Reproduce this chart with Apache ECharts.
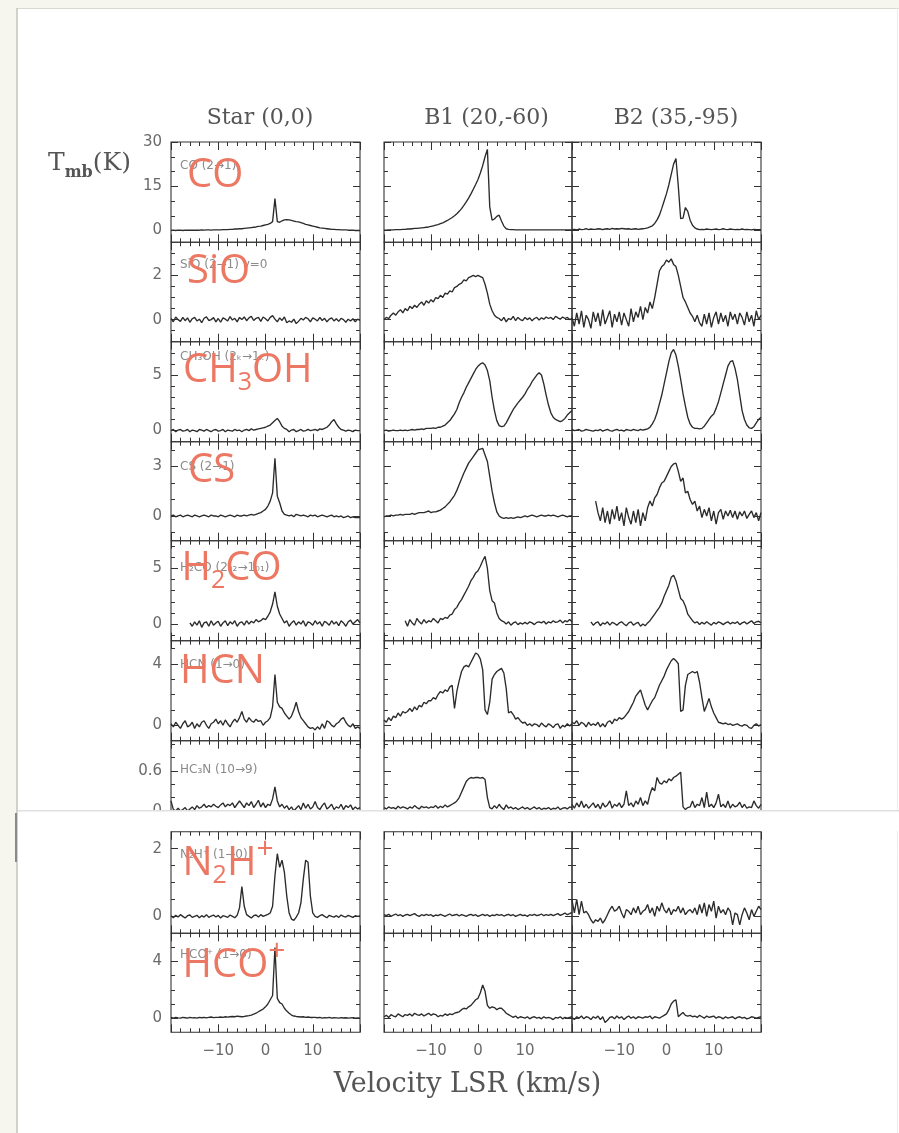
<!DOCTYPE html>
<html><head><meta charset="utf-8">
<script src="https://cdn.jsdelivr.net/npm/echarts@6/dist/echarts.min.js"></script>
<style>html,body{margin:0;padding:0;background:#fff}#c{width:899px;height:1133px}</style>
</head><body><div id="c"></div><script>
// ---------------- DATA ----------------
const velocity = [
 -20,-19.5,-19,-18.5,-18,-17.5,-17,-16.5,-16,-15.5,
 -15,-14.5,-14,-13.5,-13,-12.5,-12,-11.5,-11,-10.5,
 -10,-9.5,-9,-8.5,-8,-7.5,-7,-6.5,-6,-5.5,
 -5,-4.5,-4,-3.5,-3,-2.5,-2,-1.5,-1,-0.5,
 0,0.5,1,1.5,2,2.5,3,3.5,4,4.5,
 5,5.5,6,6.5,7,7.5,8,8.5,9,9.5,
 10,10.5,11,11.5,12,12.5,13,13.5,14,14.5,
 15,15.5,16,16.5,17,17.5,18,18.5,19,19.5,
 20];
const columnTitles = ['Star (0,0)', 'B1 (20,-60)', 'B2 (35,-95)'];
const xTickLabels = [-10, 0, 10];
const yRanges = [[-4,30],[-1,3.5],[-1,8],[-1.5,4.5],[-1.5,7.5],[-1,5.5],[-0.27,1.05],[-0.5,2.5],[-1,6]];
const yMajorTicks = [[0,15,30],[0,2],[0,5],[0,3],[0,5],[0,4],[0,0.6],[0,2],[0,4]];
const yMinorTicks = [[5,10,20,25],[-0.5,0.5,1,1.5,2.5,3],[1,2,3,4,6,7],[-1,1,2,4],[-1,1,2,3,4,6,7],[1,2,3,5],[0.2,0.4,0.8,1.0],[0.5,1,1.5],[1,2,3,5]];

const starCO = [0.0,0.1,0.0,0.1,0.1,0.0,0.1,0.1,0.1,0.1,
 0.1,0.1,0.1,0.2,0.1,0.2,0.2,0.1,0.2,0.2,
 0.2,0.2,0.3,0.3,0.3,0.4,0.4,0.5,0.5,0.6,
 0.6,0.7,0.8,0.9,1.0,1.1,1.2,1.4,1.5,1.7,
 1.9,2.1,2.4,3.0,10.8,3.0,2.8,3.3,3.6,3.7,
 3.6,3.4,3.2,3.0,2.9,2.7,2.4,2.1,1.9,1.7,
 1.5,1.3,1.1,0.9,0.8,0.7,0.6,0.5,0.4,0.4,
 0.3,0.3,0.2,0.2,0.2,0.1,0.1,0.1,0.0,0.0,
 0.0];
const b1CO = [0.1,0.1,0.2,0.2,0.2,0.3,0.3,0.3,0.4,0.4,
 0.5,0.5,0.6,0.7,0.7,0.8,0.9,1.0,1.1,1.2,
 1.4,1.6,1.8,2.0,2.3,2.6,3.0,3.4,3.9,4.4,
 5.0,5.7,6.5,7.4,8.5,9.7,11.0,12.4,14.0,15.6,
 17.3,19.5,22.0,25.0,27.5,8.0,3.5,3.9,4.8,5.2,
 3.2,1.5,0.6,0.4,0.3,0.3,0.2,0.2,0.2,0.2,
 0.2,0.2,0.2,0.2,0.2,0.2,0.2,0.2,0.2,0.2,
 0.2,0.2,0.2,0.2,0.2,0.2,0.2,0.2,0.2,0.2,
 0.2];
const b2CO = [0.3,0.4,0.2,0.5,0.3,0.4,0.6,0.3,0.5,0.4,
 0.4,0.6,0.5,0.3,0.5,0.6,0.4,0.7,0.5,0.6,
 0.5,0.7,0.6,0.5,0.6,0.4,0.5,0.6,0.4,0.5,
 0.6,0.7,0.9,1.2,1.6,2.4,3.6,5.2,7.5,10.0,
 12.5,15.5,19.0,22.5,24.4,15.0,4.0,4.2,7.8,6.5,
 3.5,1.8,0.9,0.5,0.3,0.4,0.3,0.5,0.4,0.3,
 0.4,0.5,0.3,0.4,0.6,0.4,0.3,0.5,0.4,0.3,
 0.4,0.3,0.5,0.3,0.4,0.3,0.2,0.4,0.3,0.3,
 0.3];

const starSiO = [0.05,-0.1,0.12,0.0,-0.08,0.1,-0.05,0.08,-0.12,0.04,
 0.1,-0.06,0.02,-0.14,0.06,0.12,-0.04,0.0,0.09,-0.1,
 0.05,-0.12,0.08,0.02,-0.06,0.14,-0.02,0.06,-0.1,0.1,
 0.0,0.12,-0.05,0.08,0.15,-0.04,0.06,0.1,-0.08,0.12,
 0.04,-0.06,0.1,0.18,0.02,-0.1,0.08,-0.04,0.12,-0.14,
 -0.06,-0.12,0.02,-0.18,-0.08,0.06,-0.02,0.1,0.04,-0.1,
 0.08,0.02,-0.06,0.1,-0.04,0.06,-0.1,0.02,0.08,-0.06,
 0.04,-0.08,0.06,0.0,-0.12,0.02,-0.06,0.04,-0.1,0.02,
 -0.04];
const b1SiO = [0.0,0.1,0.05,0.2,0.3,0.2,0.35,0.45,0.3,0.5,
 0.4,0.6,0.5,0.65,0.55,0.7,0.8,0.65,0.85,0.75,
 0.9,0.8,1.0,0.95,1.1,1.0,1.2,1.15,1.3,1.25,
 1.45,1.5,1.6,1.65,1.8,1.75,1.9,1.95,2.0,1.95,
 2.0,1.95,1.9,1.6,1.2,0.7,0.4,0.2,0.1,0.05,
 -0.05,0.1,-0.1,0.05,0.0,0.15,-0.05,0.1,0.0,-0.05,
 0.1,0.0,0.08,-0.05,0.05,0.1,-0.02,0.08,0.02,0.12,
 0.05,0.1,0.0,0.15,0.08,0.02,0.12,0.05,0.1,0.0,
 0.05];
const b2SiO = [0.1,-0.3,0.3,-0.2,0.4,-0.35,0.2,0.0,-0.4,0.35,
 -0.1,0.3,-0.3,0.45,-0.2,0.1,0.4,-0.35,0.25,-0.1,
 0.35,-0.25,0.3,0.0,-0.3,0.5,-0.1,0.35,0.1,0.6,
 0.0,0.55,0.3,0.8,0.5,1.0,1.6,2.2,2.4,2.5,
 2.7,2.6,2.75,2.5,2.4,2.0,1.5,1.0,0.8,0.55,
 0.3,0.15,-0.1,0.2,-0.15,-0.3,0.25,-0.2,0.3,-0.35,
 0.1,0.35,-0.2,0.3,-0.1,0.2,-0.3,0.35,0.0,0.25,
 -0.2,0.3,0.1,-0.25,0.35,-0.1,0.2,-0.3,0.4,0.0,
 0.2];

const starCH3OH = [0.0,0.1,-0.1,0.05,0.1,-0.05,0.0,0.1,-0.1,0.05,
 0.0,-0.1,0.1,0.05,-0.05,0.1,0.0,-0.1,0.05,0.1,
 -0.05,0.0,0.1,-0.1,0.05,0.0,-0.05,0.1,0.0,0.05,
 -0.1,0.05,0.1,0.0,0.15,0.05,0.1,0.15,0.2,0.25,
 0.3,0.4,0.5,0.7,0.9,1.1,0.8,0.4,0.2,0.1,
 -0.1,0.05,0.1,-0.1,0.0,0.1,-0.05,0.0,0.1,0.0,
 0.05,0.1,0.0,0.15,0.1,0.2,0.3,0.5,0.8,1.0,
 0.6,0.3,0.1,0.05,-0.05,0.05,0.0,-0.1,0.05,0.0,
 0.0];
const b1CH3OH = [0.0,0.05,-0.05,0.0,0.05,0.0,0.0,0.05,0.0,0.05,
 0.0,0.05,0.1,0.05,0.1,0.1,0.15,0.1,0.2,0.2,
 0.2,0.25,0.2,0.3,0.3,0.4,0.5,0.7,0.9,1.2,
 1.5,1.9,2.5,3.0,3.4,3.9,4.3,4.7,5.1,5.5,
 5.8,6.0,6.1,5.9,5.4,4.5,3.0,1.8,0.9,0.45,
 0.35,0.4,0.7,1.1,1.5,1.9,2.2,2.5,2.75,3.0,
 3.3,3.7,4.0,4.4,4.7,5.0,5.2,5.0,4.2,3.2,
 2.3,1.6,1.2,1.0,0.9,0.8,0.9,1.1,1.4,1.6,
 1.8];
const b2CH3OH = [0.1,0.0,0.05,0.1,-0.05,0.0,0.1,0.05,0.0,-0.05,
 0.05,0.0,0.1,-0.05,0.05,0.1,0.0,-0.05,0.05,0.1,
 0.0,0.05,-0.05,0.1,0.05,0.0,0.1,0.05,0.0,0.1,
 0.05,0.1,0.15,0.3,0.6,1.0,1.6,2.4,3.2,4.2,
 5.2,6.2,7.0,7.3,6.8,5.8,4.6,3.3,2.2,1.2,
 0.6,0.3,0.2,0.2,0.15,0.2,0.4,0.7,1.0,1.3,
 1.5,2.0,2.6,3.4,4.2,5.0,5.8,6.2,6.3,5.6,
 4.6,3.2,1.8,1.0,0.5,0.25,0.2,0.35,0.7,1.0,
 1.2];

const starCS = [0.0,0.05,-0.05,0.0,0.05,-0.05,0.0,0.05,0.0,-0.05,
 0.05,0.0,-0.05,0.0,0.05,0.0,-0.05,0.05,0.0,0.0,
 -0.05,0.05,0.0,-0.05,0.0,0.05,0.0,-0.05,0.05,0.0,
 0.0,0.05,0.0,0.05,0.1,0.05,0.1,0.15,0.2,0.3,
 0.4,0.6,0.9,1.4,3.5,1.2,0.8,0.3,0.1,0.05,
 0.0,0.05,-0.05,0.1,0.05,0.0,0.05,0.0,-0.05,0.05,
 0.0,0.05,-0.05,0.0,0.05,0.0,-0.05,0.0,0.05,-0.05,
 0.0,-0.05,0.0,-0.1,-0.05,0.0,-0.1,-0.05,-0.1,-0.1,
 -0.1];
const b1CS = [-0.05,0.0,0.0,0.05,0.0,0.05,0.05,0.1,0.05,0.1,
 0.1,0.1,0.15,0.1,0.15,0.2,0.2,0.2,0.25,0.3,
 0.2,0.25,0.25,0.3,0.35,0.45,0.55,0.7,0.85,1.05,
 1.25,1.55,1.9,2.25,2.6,2.9,3.2,3.4,3.6,3.8,
 4.0,4.05,4.1,3.7,3.3,2.4,1.5,0.8,0.25,0.0,
 -0.1,-0.15,-0.1,-0.15,-0.1,-0.15,-0.1,-0.05,-0.1,-0.05,
 0.0,-0.05,0.0,0.05,0.0,-0.05,0.0,0.05,0.0,0.0,
 0.05,0.0,0.05,0.0,-0.05,0.0,0.05,0.0,-0.05,0.0,
 0.0];
const b2CS = [null,null,null,null,null,null,null,null,null,null,
 0.9,0.2,-0.3,0.5,-0.4,0.3,-0.5,0.4,-0.2,0.6,
 -0.3,0.2,-0.6,0.5,-0.1,-0.5,0.3,-0.4,0.4,-0.6,
 0.2,-0.3,0.5,0.9,0.6,1.1,1.3,1.7,2.0,2.1,
 2.4,2.7,3.0,3.15,3.2,2.7,2.1,2.3,1.4,1.5,
 1.0,0.7,0.9,0.3,0.6,-0.1,0.4,0.0,0.5,-0.3,
 0.3,-0.5,0.2,0.4,-0.2,0.3,0.0,0.35,-0.1,0.3,
 -0.2,0.25,0.0,0.3,-0.15,0.1,0.3,-0.1,0.2,-0.3,
 0.2];

const starH2CO = [null,null,null,null,null,null,null,null,0.1,-0.2,
 0.2,-0.1,0.3,-0.3,0.1,0.2,-0.2,0.3,-0.1,0.1,
 0.25,-0.2,0.1,0.3,-0.15,0.2,0.0,0.3,-0.2,0.1,
 0.2,-0.1,0.3,0.0,0.25,0.1,0.4,0.2,0.3,0.5,
 0.4,0.7,1.1,1.8,2.9,1.6,0.9,0.5,0.1,0.3,
 -0.2,0.1,0.3,-0.1,0.2,0.0,0.3,-0.2,0.2,0.1,
 -0.1,0.3,0.0,0.2,-0.2,0.25,0.1,-0.1,0.3,0.0,
 0.2,-0.15,0.3,0.1,-0.2,0.2,0.35,0.0,0.2,0.4,
 0.1];
const b1H2CO = [null,null,null,null,null,null,null,null,null,0.3,
 -0.2,0.4,0.1,-0.1,0.5,0.2,0.0,0.4,0.1,0.3,
 0.2,0.5,0.3,0.1,0.5,0.4,0.6,0.5,0.8,0.9,
 1.3,1.5,1.9,2.2,2.6,3.0,3.4,3.9,4.2,4.6,
 4.8,5.2,5.7,6.1,5.0,3.0,2.1,1.9,1.0,0.5,
 0.3,0.2,0.0,0.2,-0.1,0.1,0.2,-0.05,0.1,0.0,
 0.15,0.0,0.2,0.1,-0.05,0.15,0.2,0.1,0.25,0.0,
 0.2,0.1,0.3,0.15,0.2,0.35,0.1,0.3,0.2,0.4,
 0.2];
const b2H2CO = [null,null,null,null,null,null,null,null,0.2,-0.1,
 0.1,0.2,-0.15,0.1,0.0,0.2,-0.1,0.15,0.05,-0.1,
 0.1,0.2,0.0,-0.15,0.1,0.2,-0.1,0.05,0.15,-0.2,
 0.0,-0.15,0.1,0.3,0.6,0.9,1.2,1.5,1.9,2.5,
 3.0,3.5,4.2,4.4,3.9,3.1,2.3,2.1,1.6,0.9,
 0.6,0.3,0.1,0.2,-0.05,0.15,0.0,0.2,0.05,-0.1,
 0.15,0.0,0.2,0.1,-0.05,0.1,0.2,0.0,0.15,0.05,
 0.2,-0.05,0.1,0.2,0.0,0.15,0.3,0.05,0.2,0.25,
 0.1];

const starHCN = [0.1,-0.1,0.2,0.0,-0.2,0.1,0.3,-0.1,0.0,0.2,
 -0.2,0.1,-0.1,0.2,0.3,0.0,-0.2,0.1,0.2,0.4,
 0.1,0.3,0.0,0.35,0.1,-0.1,0.2,0.4,0.2,0.5,
 0.9,0.4,0.2,0.5,0.3,0.2,0.4,0.25,0.3,0.0,
 0.2,0.3,0.5,1.2,3.3,1.5,1.2,1.1,0.8,0.6,
 0.4,0.6,1.0,1.5,0.9,0.5,0.3,0.1,-0.1,-0.2,
 -0.15,-0.3,-0.1,-0.25,0.1,-0.2,0.3,0.2,0.0,-0.1,
 0.1,0.2,0.4,0.5,0.2,0.0,-0.1,0.1,-0.2,-0.1,
 -0.2];
const b1HCN = [0.35,0.2,0.5,0.3,0.6,0.5,0.8,0.6,0.9,0.8,
 0.9,1.1,0.9,1.2,1.0,1.3,1.2,1.5,1.4,1.6,
 1.6,1.8,1.7,2.0,2.2,2.1,2.3,2.2,2.5,2.6,
 1.1,2.2,2.9,3.5,3.8,3.9,3.8,4.1,4.4,4.7,
 4.6,4.3,3.6,1.0,0.7,1.5,3.0,3.3,3.5,3.6,
 3.7,3.4,2.4,0.8,0.9,0.7,0.4,0.5,0.3,0.15,
 0.2,0.0,0.1,-0.05,0.1,0.05,-0.1,0.15,0.0,-0.1,
 0.1,0.0,-0.15,0.05,0.1,-0.2,0.0,-0.1,0.1,-0.05,
 0.1];
const b2HCN = [0.2,0.1,0.3,0.0,0.2,0.1,-0.1,0.2,0.0,0.1,
 0.0,0.2,-0.1,0.1,-0.1,0.2,0.3,0.1,0.4,0.3,
 0.5,0.4,0.5,0.7,0.9,1.2,1.5,1.9,2.1,2.3,
 1.8,1.3,1.0,1.3,1.6,1.8,2.2,2.6,2.9,3.2,
 3.6,3.9,4.2,4.35,4.2,4.0,0.9,1.0,2.6,3.3,
 3.4,3.5,3.4,3.5,2.8,1.8,0.9,1.3,1.75,1.2,
 0.8,0.5,0.2,0.15,0.1,0.15,0.05,0.1,0.0,0.05,
 0.1,0.0,-0.05,0.05,0.0,-0.15,-0.2,0.0,0.1,-0.05,
 0.05];

const starHC3N = [0.15,0.02,0.0,0.04,0.0,0.02,0.05,0.0,0.03,0.06,
 0.02,0.08,0.04,0.06,0.1,0.05,0.08,0.06,0.1,0.07,
 0.05,0.09,0.12,0.06,0.1,0.08,0.12,0.05,0.1,0.15,
 0.1,0.05,0.12,0.08,0.14,0.05,0.1,0.16,0.06,0.12,
 0.05,0.1,0.08,0.18,0.36,0.15,0.06,0.1,0.04,0.08,
 0.02,0.06,0.0,0.04,0.08,0.02,0.12,0.04,0.1,0.03,
 0.06,0.14,0.05,0.02,0.08,0.12,0.03,0.06,0.1,0.02,
 0.06,0.04,0.1,0.02,0.08,0.05,0.09,0.02,0.06,0.03,
 0.05];
const b1HC3N = [0.05,0.03,0.06,0.04,0.05,0.03,0.07,0.04,0.06,0.05,
 0.03,0.06,0.04,0.08,0.05,0.03,0.07,0.05,0.06,0.04,
 0.06,0.05,0.08,0.04,0.07,0.05,0.09,0.06,0.08,0.1,
 0.12,0.15,0.2,0.28,0.36,0.44,0.48,0.5,0.49,0.5,
 0.5,0.49,0.5,0.47,0.2,0.05,0.03,0.08,0.04,0.1,
 0.05,0.02,0.09,0.04,0.06,0.03,0.05,0.02,0.04,0.06,
 0.03,0.05,0.02,0.04,0.06,0.03,0.05,0.02,0.04,0.03,
 0.05,0.02,0.04,0.03,0.06,0.02,0.04,0.05,0.03,0.06,
 0.05];
const b2HC3N = [0.1,0.04,0.12,0.06,0.15,0.05,0.1,0.04,0.08,0.12,
 0.05,0.1,0.03,0.12,0.06,0.09,0.15,0.04,0.1,0.07,
 0.12,0.05,0.1,0.3,0.08,0.12,0.06,0.15,0.1,0.2,
 0.08,0.15,0.1,0.25,0.35,0.3,0.5,0.42,0.4,0.45,
 0.42,0.48,0.45,0.5,0.52,0.55,0.58,0.06,0.02,0.05,
 0.06,0.15,0.05,0.1,0.08,0.2,0.05,0.28,0.06,0.1,
 0.05,0.12,0.25,0.06,0.1,0.05,0.15,0.04,0.1,0.06,
 0.08,0.13,0.05,0.1,0.04,0.06,0.05,0.15,0.08,0.04,
 0.1];

const starN2H = [0.02,-0.04,0.03,-0.02,0.05,0.0,-0.05,0.02,0.04,-0.03,
 0.0,0.03,-0.04,0.02,-0.02,0.05,-0.03,0.01,0.04,-0.02,
 0.03,-0.05,0.02,0.0,-0.03,0.04,0.0,-0.04,0.03,0.25,
 0.88,0.3,0.05,0.0,-0.05,0.02,0.04,-0.02,0.05,0.0,
 0.03,0.06,0.1,0.3,1.2,1.85,1.45,1.66,1.3,0.6,
 0.1,-0.08,-0.12,-0.02,0.1,0.4,1.1,1.66,1.6,0.6,
 0.1,0.0,-0.03,0.02,0.05,0.0,-0.04,0.03,0.0,-0.02,
 0.02,-0.03,0.04,0.0,-0.02,0.03,0.0,-0.03,0.02,0.0,
 0.01];
const b1N2H = [0.05,0.02,0.06,0.0,0.04,0.07,0.02,0.05,0.0,0.04,
 0.06,0.02,0.05,0.08,0.03,0.0,0.05,0.02,0.06,0.03,
 0.05,0.0,0.04,0.02,0.06,0.03,0.0,0.04,0.07,0.02,
 0.04,0.06,0.01,0.05,0.03,0.0,0.04,0.06,0.02,0.05,
 0.0,0.03,0.06,0.02,0.05,0.0,0.04,0.02,0.06,0.03,
 0.05,0.01,0.04,0.06,0.02,0.05,0.0,0.03,0.06,0.02,
 0.04,0.0,0.05,0.03,0.06,0.02,0.04,0.07,0.02,0.05,
 0.03,0.06,0.02,0.05,0.08,0.03,0.06,0.1,0.05,0.08,
 0.12];
const b2N2H = [0.48,0.1,0.5,0.05,0.45,0.1,0.15,0.05,-0.1,-0.2,
 -0.1,-0.15,-0.05,-0.2,-0.1,0.05,0.2,0.3,0.15,0.2,
 0.3,0.1,-0.05,0.2,0.15,0.05,0.25,0.1,0.3,0.05,
 0.15,0.2,0.35,0.1,0.25,0.0,0.3,0.15,0.4,0.2,
 0.1,0.25,0.05,0.2,0.15,0.3,0.1,0.25,0.05,0.15,
 0.2,0.1,0.25,0.05,0.35,0.1,0.4,0.0,0.35,0.15,
 0.45,-0.05,0.3,0.1,0.2,0.05,0.25,0.15,-0.25,0.1,
 0.05,-0.25,0.05,0.25,0.1,-0.1,0.2,0.0,0.15,0.3,
 0.2];

const starHCO = [0.05,0.0,0.05,0.02,0.0,0.05,0.03,0.0,0.05,0.02,
 0.04,0.0,0.05,0.03,0.06,0.02,0.05,0.08,0.04,0.06,
 0.05,0.08,0.06,0.1,0.07,0.1,0.12,0.1,0.14,0.12,
 0.1,0.12,0.15,0.18,0.22,0.28,0.35,0.45,0.55,0.65,
 0.8,1.0,1.3,1.6,5.0,1.4,1.1,1.0,0.7,0.5,
 0.35,0.22,0.15,0.12,0.1,0.08,0.1,0.05,0.08,0.05,
 0.05,0.06,0.03,0.05,0.0,0.04,0.02,0.05,0.0,0.03,
 0.02,0.0,0.04,0.01,0.03,0.0,0.02,0.04,0.0,0.02,
 0.0];
const b1HCO = [0.1,0.2,0.05,0.25,0.15,0.1,0.3,0.2,0.1,0.25,
 0.2,0.3,0.15,0.35,0.25,0.2,0.3,0.15,0.25,0.35,
 0.2,0.3,0.25,0.1,0.2,0.15,0.3,0.2,0.3,0.25,
 0.35,0.4,0.45,0.6,0.7,0.65,0.8,0.9,1.1,1.3,
 1.4,1.8,2.35,1.9,0.9,0.7,0.8,0.75,0.6,0.7,
 0.7,0.55,0.35,0.25,0.15,0.05,0.15,0.0,0.1,0.05,
 0.0,0.1,-0.05,0.05,0.1,0.0,0.05,-0.05,0.1,0.0,
 0.05,0.0,-0.1,0.05,0.0,0.1,-0.05,0.05,0.0,0.05,
 0.1];
const b2HCO = [0.05,-0.1,0.1,0.0,0.15,-0.05,0.1,0.05,-0.1,0.1,
 0.0,0.15,-0.1,0.1,-0.3,-0.15,0.05,0.1,-0.05,0.15,
 0.0,0.1,-0.1,0.05,0.15,0.0,0.1,-0.05,0.1,0.05,
 0.0,0.1,0.05,0.15,-0.05,0.1,0.05,0.0,0.1,0.2,
 0.3,0.6,1.0,1.2,1.3,0.1,0.25,0.4,0.2,0.15,
 0.2,0.1,0.15,0.05,0.2,0.1,0.0,0.15,0.05,0.1,
 0.15,0.0,0.1,0.05,-0.05,0.1,0.0,0.05,0.1,-0.05,
 0.05,0.1,0.0,0.05,-0.05,0.0,0.1,0.05,0.0,0.05,
 0.1];

const spectra = [
 [starCO, b1CO, b2CO],
 [starSiO, b1SiO, b2SiO],
 [starCH3OH, b1CH3OH, b2CH3OH],
 [starCS, b1CS, b2CS],
 [starH2CO, b1H2CO, b2H2CO],
 [starHCN, b1HCN, b2HCN],
 [starHC3N, b1HC3N, b2HC3N],
 [starN2H, b1N2H, b2N2H],
 [starHCO, b1HCO, b2HCO]
];

// ---------------- LAYOUT ----------------
const colLeft = [171, 384, 572], colW = [189, 188, 189];
const rowTop = [142, 242.3, 341.7, 441.7, 540.7, 640.7, 740.7, 831.7, 933.3];
const rowH = [100.3, 99.4, 100, 99, 100, 100, 88.3, 101.6, 99];
const FRAME = '#333', LINE = '#2b2b2b', LBL = '#6a6a6a', RED = '#EC7762';
const fmt = v => v < 0 ? '\u2212' + Math.abs(v) : String(v);

const grids = [], xAxes = [], yAxes = [], series = [];
for (let r = 0; r < 9; r++) {
  for (let c = 0; c < 3; c++) {
    const g = r * 3 + c;
    grids.push({left: colLeft[c], top: rowTop[r], width: colW[c], height: rowH[r],
      show: true, borderColor: FRAME, borderWidth: 1.1, backgroundColor: 'rgba(0,0,0,0)',
      containLabel: false, outerBoundsMode: 'none'});
    const tl = {color: FRAME, width: 1};
    const xb = {gridIndex: g, type: 'value', min: -20, max: 20, interval: 10,
      axisLine: {show: false, onZero: false}, splitLine: {show: false},
      axisTick: {show: true, inside: true, length: 8, lineStyle: tl},
      minorTick: {show: true, splitNumber: 5, length: 4, lineStyle: tl},
      minorSplitLine: {show: false}};
    xAxes.push(Object.assign({}, xb, {position: 'bottom',
      axisLabel: {show: r === 8, customValues: xTickLabels, formatter: fmt, margin: 11,
        fontFamily: 'DejaVu Sans', fontSize: 15, color: LBL}}));
    xAxes.push(Object.assign({}, xb, {position: 'top', axisLabel: {show: false}}));
    const yb = {gridIndex: g, type: 'value', min: yRanges[r][0], max: yRanges[r][1],
      axisLine: {show: false, onZero: false}, splitLine: {show: false}};
    ['left', 'right'].forEach(pos => {
      yAxes.push(Object.assign({}, yb, {position: pos,
        axisTick: {show: true, inside: true, length: 7, customValues: yMajorTicks[r], lineStyle: tl},
        axisLabel: {show: pos === 'left' && c === 0, customValues: yMajorTicks[r], margin: 9,
          fontFamily: 'DejaVu Sans', fontSize: 15, color: LBL}}));
      yAxes.push(Object.assign({}, yb, {position: pos,
        axisTick: {show: true, inside: true, length: 4, customValues: yMinorTicks[r], lineStyle: tl},
        axisLabel: {show: false}}));
    });
    const arr = spectra[r][c];
    series.push({type: 'line', xAxisIndex: 2 * g, yAxisIndex: 4 * g,
      data: velocity.map((v, i) => [v, arr[i]]), symbol: 'none', showSymbol: false,
      lineStyle: {color: LINE, width: 1.35}, animation: false, silent: true, clip: true, z: 3});
  }
}

// ---------------- TEXT & DECOR ----------------
const mctx = document.createElement('canvas').getContext('2d');
function fontStr(size, family, weight) { return (weight ? weight + ' ' : '') + size + 'px ' + family; }
function textW(text, size, family, weight) { mctx.font = fontStr(size, family, weight); return mctx.measureText(text).width; }
function midToBase(size, family, weight) {
  mctx.font = fontStr(size, family, weight); mctx.textBaseline = 'middle';
  const d = mctx.measureText('H').actualBoundingBoxDescent; mctx.textBaseline = 'alphabetic'; return d;
}
function txt(x, y, text, font, fill, align, valign, z) {
  return {type: 'text', x, y, z: z || 50, silent: true,
    style: {text, font, fill, align, verticalAlign: valign, textAlign: align, textVerticalAlign: valign}};
}
// pieces: [text, size, baselineShift, weight]
function compose(x, base, pieces, family, fill, z) {
  const out = []; let cx = x;
  pieces.forEach(([t, size, dy, w]) => {
    out.push(txt(cx, base + dy - midToBase(size, family, w), t, fontStr(size, family, w), fill, 'left', 'middle', z));
    cx += textW(t, size, family, w);
  });
  return out;
}
const OS = '"Open Sans"';
const redLabels = [
  [187, 186.7, [['CO', 40, 0]]],
  [187, 282.7, [['SiO', 40, 0]]],
  [183, 381.7, [['CH', 40, 0], ['3', 25, 8], ['OH', 40, 0]]],
  [188, 481.7, [['CS', 40, 0]]],
  [181.5, 580, [['H', 40, 0], ['2', 25, 8], ['CO', 40, 0]]],
  [180, 683.3, [['HCN', 40, 0]]],
  [182.5, 875, [['N', 40, 0], ['2', 25, 8], ['H', 40, 0], ['+', 30, -17]]],
  [182.5, 976.7, [['HCO', 40, 0], ['+', 30, -17]]]
];
const greyLabels = [
  ['CO (2\u21921)', 166], ['SiO (2\u21921) v=0', 265], ['CH\u2083OH (2\u2096\u21921\u2096)', 357],
  ['CS (2\u21921)', 467], ['H\u2082CO (2\u2080\u2082\u21921\u2080\u2081)', 568], ['HCN (1\u21920)', 665],
  ['HC\u2083N (10\u21929)', 770], ['N\u2082H\u207A (1\u21920)', 855], ['HCO\u207A (1\u21920)', 955]
];
let graphics = [
  {type: 'rect', shape: {x: 0, y: 0, width: 899, height: 8}, style: {fill: '#f6f6ee'}, z: 1, silent: true},
  {type: 'rect', shape: {x: 0, y: 0, width: 17, height: 1133}, style: {fill: '#f6f6ee'}, z: 1, silent: true},
  {type: 'line', shape: {x1: 17, y1: 8.5, x2: 899, y2: 8.5}, style: {stroke: '#d8d8d0', lineWidth: 1}, z: 2, silent: true},
  {type: 'line', shape: {x1: 17, y1: 8, x2: 17, y2: 1133}, style: {stroke: '#c4c4bc', lineWidth: 1.5}, z: 2, silent: true},
  {type: 'line', shape: {x1: 16, y1: 813, x2: 16, y2: 862}, style: {stroke: '#8a8a8a', lineWidth: 2}, z: 2, silent: true},
  {type: 'line', shape: {x1: 897.5, y1: 8, x2: 897.5, y2: 1133}, style: {stroke: '#ececec', lineWidth: 1}, z: 2, silent: true},
  {type: 'rect', shape: {x: 18, y: 811, width: 881, height: 19.8}, style: {fill: '#ffffff'}, z: 100, silent: true},
  {type: 'line', shape: {x1: 18, y1: 810.8, x2: 899, y2: 810.8}, style: {stroke: '#e0e0e0', lineWidth: 1.5}, z: 101, silent: true}
];
const titleX = [260, 486.5, 676];
columnTitles.forEach((t, i) => graphics.push(txt(titleX[i], 118.5, t, '22px "DejaVu Serif"', '#555', 'center', 'middle')));
const DS = '"DejaVu Serif"';
graphics = graphics.concat(compose(48, 170, [['T', 25, 0], ['mb', 16, 6.5, 'bold'], ['(K)', 25, 0]], DS, '#555', 50));
graphics.push(txt(467.5, 1085, 'Velocity LSR (km/s)', '27px "DejaVu Serif"', '#555', 'center', 'middle'));
greyLabels.forEach(([t, y]) => graphics.push(txt(180, y, t, '12px "DejaVu Sans"', '#8a8a8a', 'left', 'middle', 40)));
redLabels.forEach(([x, base, pieces]) => { graphics = graphics.concat(compose(x, base, pieces, OS, RED, 60)); });

const chart = echarts.init(document.getElementById('c'), null, {renderer: 'canvas', width: 899, height: 1133});
chart.setOption({
  backgroundColor: '#ffffff',
  animation: false,
  grid: grids, xAxis: xAxes, yAxis: yAxes, series: series,
  graphic: {elements: graphics}
});
</script></body></html>
